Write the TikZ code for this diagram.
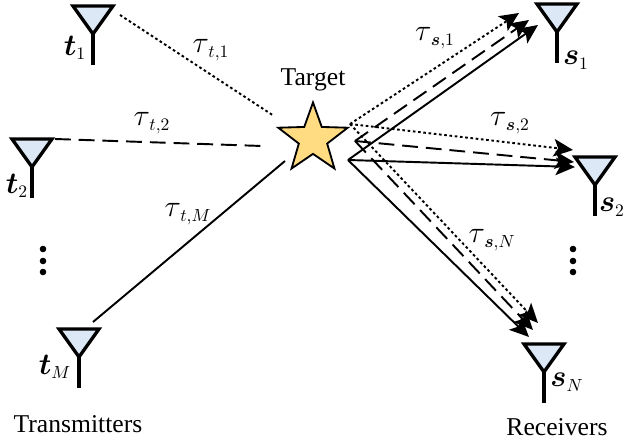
\documentclass[tikz,border=0pt]{standalone}
\usepackage{amsmath}
\usepackage{fontspec}
\setmainfont{Liberation Serif}
\usepackage{tikz}
\usetikzlibrary{arrows.meta,shapes.geometric}
\DeclareMathSizes{17}{18}{10}{7}
\definecolor{antblue}{RGB}{220,232,245}
\definecolor{stargold}{RGB}{255,219,130}
\tikzset{
    antenna/.pic={
        \draw[line width=1.9pt, fill=antblue, miter limit=10] (-20,-28) -- (20,-28) -- (0,0) -- cycle;
        \draw[line width=1.9pt] (0,0) -- (0,31);
    },
    inlink/.style={line width=1.1pt},
    outlink/.style={line width=1.1pt, -{Stealth[length=11pt,width=10pt,inset=2.5pt]}},
    sparse/.style={dash pattern=on 9pt off 4.5pt},
    fine/.style={dash pattern=on 1.5pt off 1.5pt},
    plain/.style={font=\fontsize{14.6}{16}\selectfont},
    lab/.style={font=\fontsize{17}{19}\selectfont, inner sep=0pt},
}
\begin{document}
\begin{tikzpicture}[x=0.02cm, y=-0.02cm]
        \useasboundingbox (0,0) rectangle (625,445);

        \pic at (93,34) {antenna};
        \pic at (32,167) {antenna};
        \pic at (79,357) {antenna};
        \pic at (557,32) {antenna};
        \pic at (595,185) {antenna};
        \pic at (544,372) {antenna};

        \node[star, star points=5, star point ratio=2.45, draw, line width=1.05pt, fill=stargold,
            minimum size=1.46cm, inner sep=0pt] (target) at (313,139) {};

        \coordinate (t1) at (120,15);
        \coordinate (t2) at (55,139);
        \coordinate (tM) at (93,322);
        \coordinate (a1) at (274,116);
        \coordinate (a2) at (262,146);
        \coordinate (aM) at (285,161);
        \coordinate (b1) at (350,124);
        \coordinate (b2) at (355,141);
        \coordinate (bM) at (348,160);
        \coordinate (s11) at (519,13);
        \coordinate (s12) at (529,20);
        \coordinate (s13) at (538,25);
        \coordinate (s21) at (573,150);
        \coordinate (s22) at (574,162);
        \coordinate (s23) at (575,167);
        \coordinate (sN1) at (538,323);
        \coordinate (sN2) at (533,330);
        \coordinate (sN3) at (529,337);

        \draw[inlink, fine] (t1) -- (a1);
        \draw[inlink, sparse] (t2) -- (a2);
        \draw[inlink] (tM) -- (aM);

        \draw[outlink, fine] (b1) -- (s11);
        \draw[outlink, sparse] (b2) -- (s12);
        \draw[outlink] (bM) -- (s13);
        \draw[outlink, fine] (b1) -- (s21);
        \draw[outlink, sparse] (b2) -- (s22);
        \draw[outlink] (bM) -- (s23);
        \draw[outlink, fine] (b1) -- (sN1);
        \draw[outlink, sparse] (b2) -- (sN2);
        \draw[outlink] (bM) -- (sN3);

        \foreach \y in {249,261,272} {
            \fill (43,\y) circle (3.3);
            \fill (573,\y) circle (3.3);
        }

        \node[lab] (lt1) at (75,48) {$\boldsymbol{t}_{1}$};
        \node[lab] (lt2) at (17,186) {$\boldsymbol{t}_{2}$};
        \node[lab] (ltM) at (55,367) {$\boldsymbol{t}_{M}$};
        \node[lab] (ls1) at (576,60) {$\boldsymbol{s}_{1}$};
        \node[lab] (ls2) at (612,207) {$\boldsymbol{s}_{2}$};
        \node[lab] (lsN) at (567,382) {$\boldsymbol{s}_{N}$};

        \node[lab] (tau1) at (211,50) {$\tau_{\,t,1}$};
        \node[lab] (tau2) at (152,123) {$\tau_{\,t,2}$};
        \node[lab] (tauM) at (188,214) {$\tau_{\,t,M}$};
        \node[lab] (sau1) at (435,38) {$\tau_{\,\boldsymbol{s},1}$};
        \node[lab] (sau2) at (510,123) {$\tau_{\,\boldsymbol{s},2}$};
        \node[lab] (sauN) at (492,240) {$\tau_{\,\boldsymbol{s},N}$};

        \node[plain] (tlabel) at (313,80) {Target};
        \node[plain] (tx) at (78,424) {Transmitters};
        \node[plain] (rx) at (557,427) {Receivers};
\end{tikzpicture}
\end{document}
